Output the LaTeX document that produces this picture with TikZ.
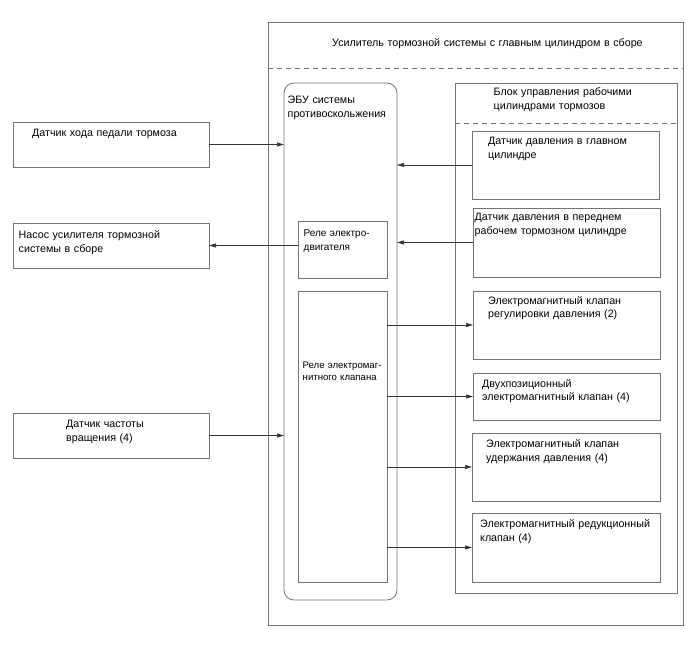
\documentclass[tikz,border=0pt]{standalone}
\usepackage{fontspec}
\setmainfont{Liberation Sans}
\usetikzlibrary{arrows.meta}
\begin{document}
\begin{tikzpicture}[x=1pt,y=-1pt,
  box/.style={draw=black!55, line width=0.8pt, anchor=north west, inner sep=0pt, outer sep=0pt},
  txt/.style={anchor=base west, inner sep=0pt, text width=400pt, align=left, font=\fontsize{10.7}{13.8}\selectfont},
  relaytxt/.style={txt, font=\fontsize{10}{13.8}\selectfont},
  smalltxt/.style={txt, font=\fontsize{9.6}{12}\selectfont},
  sep/.style={draw=black!55, line width=0.8pt, dash pattern=on 5pt off 4pt},
  arr/.style={draw=black!80, line width=0.7pt, -{Triangle[length=7pt,width=4pt]}}]
\useasboundingbox (0,0) rectangle (688,658);

% outer assembly
\node[box, minimum width=415pt, minimum height=603pt] (outer) at (268,22) {};
\node[txt] (outerT) at (332,47) {Усилитель тормозной системы с главным цилиндром в сборе};
\draw[sep] (outer.west |- 0,68) -- (outer.east |- 0,68);

% ECU
\node[box, rounded corners=10pt, minimum width=113pt, minimum height=517pt] (ecu) at (284,83) {};
\node[txt] (ecuT) at (287.5,104) {ЭБУ системы\\противоскольжения};
\node[box, minimum width=89pt, minimum height=57pt] (relm) at (298,221) {};
\node[relaytxt] (relmT) at (303.5,236.7) {Реле электро-\\двигателя};
\node[box, minimum width=89pt, minimum height=291pt] (rels) at (298,291) {};
\node[smalltxt] (relsT) at (302.5,368.5) {Реле электромаг-\\нитного клапана};

% control block
\node[box, minimum width=222pt, minimum height=510pt] (blk) at (455,83) {};
\node[txt] (blkT) at (493.5,96) {Блок управления рабочими\\цилиндрами тормозов};
\draw[sep] (blk.west |- 0,123) -- (blk.east |- 0,123);

\node[box, minimum width=187pt, minimum height=68pt] (msens) at (472,131) {};
\node[txt] (msensT) at (488,144.5) {Датчик давления в главном\\цилиндре};
\node[box, minimum width=187pt, minimum height=69pt] (fsens) at (473,208) {};
\node[txt] (fsensT) at (474.5,220.8) {Датчик давления в переднем\\рабочем тормозном цилиндре};
\node[box, minimum width=187pt, minimum height=68pt] (vA) at (473,291) {};
\node[txt] (vAT) at (488,304) {Электромагнитный клапан\\регулировки давления (2)};
\node[box, minimum width=187pt, minimum height=47pt] (vB) at (473,373) {};
\node[txt] (vBT) at (482,387) {Двухпозиционный\\электромагнитный клапан (4)};
\node[box, minimum width=188pt, minimum height=68pt] (vC) at (472,433) {};
\node[txt] (vCT) at (486,447.5) {Электромагнитный клапан\\удержания давления (4)};
\node[box, minimum width=188pt, minimum height=69pt] (vD) at (472,513) {};
\node[txt] (vDT) at (480,527.5) {Электромагнитный редукционный\\клапан (4)};

% left boxes
\node[box, minimum width=196pt, minimum height=45pt] (pedal) at (13,122) {};
\node[txt] (pedalT) at (32,137) {Датчик хода педали тормоза};
\node[box, minimum width=196pt, minimum height=45pt] (pump) at (13,223) {};
\node[txt] (pumpT) at (18.5,238.5) {Насос усилителя тормозной\\системы в сборе};
\node[box, minimum width=196pt, minimum height=45pt] (speed) at (13,413) {};
\node[txt] (speedT) at (66,427.5) {Датчик частоты\\вращения (4)};

% connectors
\draw[arr] (pedal.east) -- (pedal.east -| ecu.west);
\draw[arr] (pump.east -| relm.west) -- (pump.east);
\draw[arr] (speed.east) -- (speed.east -| ecu.west);
\draw[arr] (msens.west) -- (msens.west -| ecu.east);
\draw[arr] (fsens.west) -- (fsens.west -| ecu.east);
\draw[arr] (vA.west -| rels.east) -- (vA.west);
\draw[arr] (vB.west -| rels.east) -- (vB.west);
\draw[arr] (vC.west -| rels.east) -- (vC.west);
\draw[arr] (vD.west -| rels.east) -- (vD.west);
\end{tikzpicture}
\end{document}
